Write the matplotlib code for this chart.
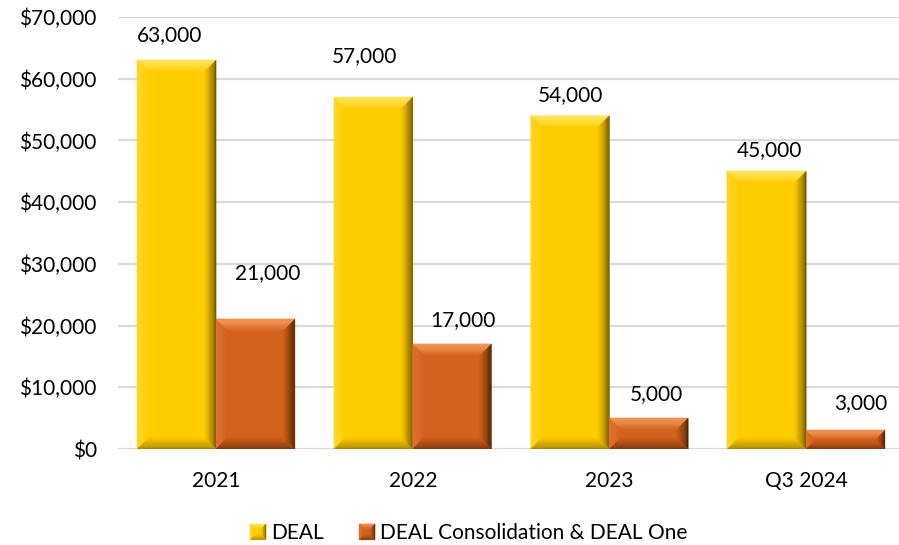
import matplotlib
matplotlib.use("Agg")
import matplotlib.pyplot as plt
import numpy as np
from matplotlib.patches import Polygon
from matplotlib.legend_handler import HandlerBase
from matplotlib.colors import to_rgb
from matplotlib.ticker import FuncFormatter

# ---- data ----
categories = ["2021", "2022", "2023", "Q3 2024"]
deal = [63000, 57000, 54000, 45000]
deal_consolidation = [21000, 17000, 5000, 3000]
series_names = ["DEAL", "DEAL Consolidation & DEAL One"]
y_ticks = [0, 10000, 20000, 30000, 40000, 50000, 60000, 70000]

# value-label nudges in pixels: (dx, height above bar top)
deal_label_offsets = [(-7, 25), (-9, 41), (0, 21), (3, 21)]
cons_label_offsets = [(12, 46), (11, 24), (8, 24), (15, 27)]

# ---- styles ----
FONT = ["Lato", "DejaVu Sans"]
plt.rcParams["font.family"] = FONT
FS = 15

YELLOW = dict(base="#FFCC00", top="#FFE866", left="#FFD82E",
              right="#5E4A00", bottom="#A08000")
ORANGE = dict(base="#D2621C", top="#F59A5C", left="#E07434",
              right="#401A04", bottom="#7A340B")


def mix(c1, c2, t):
    a, b = np.array(to_rgb(c1)), np.array(to_rgb(c2))
    return tuple(a * (1 - t) + b * t)


def bevel_polys(x0, y0, x1, y1, bevel, steps, pal):
    """Return (polygon, colour) pairs for a bevelled rectangle given in pixels."""
    out = [([(x0, y0), (x1, y0), (x1, y1), (x0, y1)], to_rgb(pal["base"]))]
    b = min(bevel, (x1 - x0) / 2, (y1 - y0) / 2)
    for i in range(steps):
        t0 = b * i / steps
        t1 = b * (i + 1) / steps
        f = (i + 0.5) / steps
        ox0, oy0, ox1, oy1 = x0 + t0, y0 + t0, x1 - t0, y1 - t0
        ix0, iy0, ix1, iy1 = x0 + t1, y0 + t1, x1 - t1, y1 - t1
        out.append(([(ox0, oy1), (ox1, oy1), (ix1, iy1), (ix0, iy1)],
                    mix(pal["top"], pal["base"], f ** 1.3)))
        out.append(([(ox0, oy0), (ox0, oy1), (ix0, iy1), (ix0, iy0)],
                    mix(pal["left"], pal["base"], f)))
        out.append(([(ox1, oy0), (ox1, oy1), (ix1, iy1), (ix1, iy0)],
                    mix(pal["right"], pal["base"], f ** 0.7)))
        out.append(([(ox0, oy0), (ox1, oy0), (ix1, iy0), (ix0, iy0)],
                    mix(pal["bottom"], pal["base"], f ** 0.8)))
    return out


def draw_bevel_bars(ax, xs, heights, width, pal, bevel=12, steps=10):
    to_px = ax.transData
    to_data = ax.transData.inverted()
    bars = ax.bar(xs, heights, width, color="none", linewidth=0, zorder=2)
    for rect in bars:
        (px0, py0) = to_px.transform((rect.get_x(), 0))
        (px1, py1) = to_px.transform((rect.get_x() + rect.get_width(), rect.get_height()))
        for pts, col in bevel_polys(px0, py0, px1, py1, bevel, steps, pal):
            ax.add_patch(Polygon(to_data.transform(pts), closed=True,
                                 facecolor=col, edgecolor=col, linewidth=0.3,
                                 zorder=3))
    return bars


class BevelKey:
    def __init__(self, pal):
        self.pal = pal


class BevelKeyHandler(HandlerBase):
    def create_artists(self, legend, orig_handle, xdescent, ydescent,
                       width, height, fontsize, trans):
        side = min(width, height * 1.05)
        x0 = -xdescent + (width - side) / 2
        y0 = -ydescent + (height - side) / 2
        arts = []
        for pts, col in bevel_polys(x0, y0, x0 + side, y0 + side,
                                    side * 0.32, 3, orig_handle.pal):
            arts.append(Polygon(pts, closed=True, facecolor=col, edgecolor=col,
                                linewidth=0.2, transform=trans))
        return arts


# ---- figure ----
W, H = 899, 545
fig = plt.figure(figsize=(W / 100, H / 100), dpi=100)
ax = fig.add_axes([117.7 / W, 96 / H, 786.8 / W, 432 / H])

x = np.arange(len(categories))
bw = 0.40
ax.set_xlim(-0.5, len(categories) - 0.5)
ax.set_ylim(0, 70000)

ax.set_yticks(y_ticks)
ax.yaxis.set_major_formatter(FuncFormatter(lambda v, p: f"${v:,.0f}"))
ax.set_xticks(x)
ax.set_xticklabels(categories)
ax.tick_params(axis="both", length=0, labelsize=FS, colors="black")
ax.tick_params(axis="y", pad=15)
ax.tick_params(axis="x", pad=16)
for s in ax.spines.values():
    s.set_visible(False)
ax.grid(axis="y", color="#D9D9D9", linewidth=1.6, zorder=0)
ax.set_axisbelow(True)

fig.canvas.draw()
draw_bevel_bars(ax, x - bw / 2, deal, bw, YELLOW)
draw_bevel_bars(ax, x + bw / 2, deal_consolidation, bw, ORANGE)

# value labels
for xs, vals, offs in ((x - bw / 2, deal, deal_label_offsets),
                       (x + bw / 2, deal_consolidation, cons_label_offsets)):
    for xi, v, (dx, dy) in zip(xs, vals, offs):
        ax.annotate(f"{v:,}", (xi, v), xytext=(dx * 0.72, dy * 0.72),
                    textcoords="offset points", ha="center", va="center",
                    fontsize=FS, color="black", zorder=5)

handles = [BevelKey(YELLOW), BevelKey(ORANGE)]
fig.legend(handles, series_names, loc="center",
           bbox_to_anchor=(469 / W, 1 - 533 / H), ncol=2, frameon=False,
           fontsize=FS, handlelength=0.75, handleheight=0.75,
           handletextpad=0.25, columnspacing=1.7,
           handler_map={BevelKey: BevelKeyHandler()})

fig.savefig("out.png", dpi=100)
